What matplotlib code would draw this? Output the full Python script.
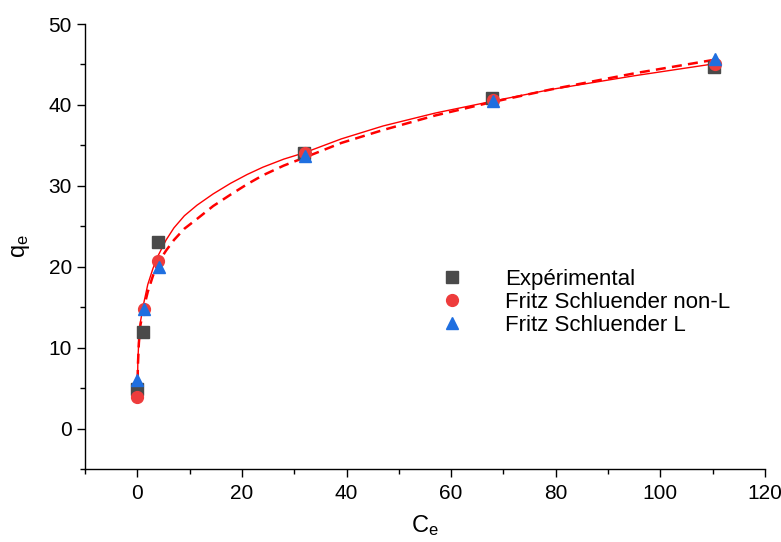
import matplotlib
matplotlib.use("Agg")
import matplotlib.pyplot as plt
from matplotlib.ticker import MultipleLocator

plt.rcParams['font.family'] = ['Liberation Sans', 'DejaVu Sans']
plt.rcParams['mathtext.default'] = 'regular'

# Experimental data
exp_c = [0.0, 1.1, 4.0, 31.9, 67.9, 110.3]
exp_q = [4.9, 11.9, 23.0, 34.0, 40.9, 44.7]

# Fritz Schluender non-L model points
nonl_c = [0.0, 1.2, 4.0, 32.0, 68.0, 110.5]
nonl_q = [3.9, 14.8, 20.7, 34.0, 40.6, 45.0]

# Fritz Schluender L model points
l_c = [0.0, 1.2, 4.2, 32.0, 68.0, 110.5]
l_q = [6.0, 14.8, 20.0, 33.7, 40.5, 45.7]

# Fitted curve (solid)
solid_c = [0.02, 0.1, 0.3, 0.6, 1.2, 2.0, 3.0, 4.0, 5.5, 7.0, 9.0, 11.4, 14.5,
           17.8, 21.0, 24.0, 28.0, 32.0, 39.0, 47.0, 57.0, 67.5, 79.0, 95.0, 110.5]
solid_q = [4.0, 8.2, 11.2, 13.2, 15.4, 17.8, 19.8, 21.4, 23.3, 24.8, 26.3, 27.6, 29.0,
           30.3, 31.4, 32.3, 33.3, 34.1, 35.8, 37.4, 39.0, 40.4, 41.9, 43.6, 45.1]

# Fitted curve (dashed)
dash_c = [0.02, 0.1, 0.3, 0.6, 1.2, 2.0, 3.0, 4.0, 5.5, 7.0, 9.0, 11.4, 14.5,
          17.8, 21.0, 24.0, 28.0, 32.0, 39.0, 47.0, 57.0, 67.5, 79.0, 95.0, 110.5]
dash_q = [4.0, 7.6, 10.6, 12.8, 14.8, 16.9, 18.9, 20.5, 22.0, 23.3, 24.7, 25.9, 27.5,
          28.9, 30.2, 31.3, 32.5, 33.5, 35.3, 36.9, 38.7, 40.3, 41.9, 43.9, 45.6]

fig = plt.figure(figsize=(7.81, 5.42), dpi=100)
ax = fig.add_axes([85/781, 1-469/542, 680/781, 445/542])

ax.plot(solid_c, solid_q, '-', color='#ff0000', lw=1.0, zorder=2)
ax.plot(dash_c, dash_q, '--', color='#ff0000', lw=1.8, dashes=(4, 2.5), zorder=2)

ax.plot(exp_c, exp_q, 's', color='#4a4a4a', ms=8, ls='none', label='Expérimental', zorder=3)
ax.plot(nonl_c, nonl_q, 'o', color='#ee3c3c', ms=8.5, ls='none', label='Fritz Schluender non-L', zorder=4)
ax.plot(l_c, l_q, '^', color='#1f6fe0', ms=9, ls='none', label='Fritz Schluender L', zorder=5)

ax.set_xlim(-10, 120)
ax.set_ylim(-5, 50)
ax.xaxis.set_major_locator(MultipleLocator(20))
ax.xaxis.set_minor_locator(MultipleLocator(10))
ax.yaxis.set_major_locator(MultipleLocator(10))
ax.yaxis.set_minor_locator(MultipleLocator(5))
ax.spines['top'].set_visible(False)
ax.spines['right'].set_visible(False)
for s in ('left', 'bottom'):
    ax.spines[s].set_linewidth(1.0)
ax.tick_params(which='major', direction='out', length=6, width=1, labelsize=15)
ax.tick_params(axis='x', which='major', pad=5)
ax.tick_params(which='minor', direction='out', length=3.5, width=1)

ax.set_xlabel('C$_e$', fontsize=17, labelpad=7)
ax.set_ylabel('q$_e$', fontsize=17, labelpad=12)

leg = ax.legend(loc='upper left', bbox_to_anchor=(0.51, 0.47), frameon=False,
                fontsize=16, handlelength=1.0, handletextpad=1.9,
                labelspacing=0.1, borderaxespad=0)

fig.savefig('out.png', dpi=100)
